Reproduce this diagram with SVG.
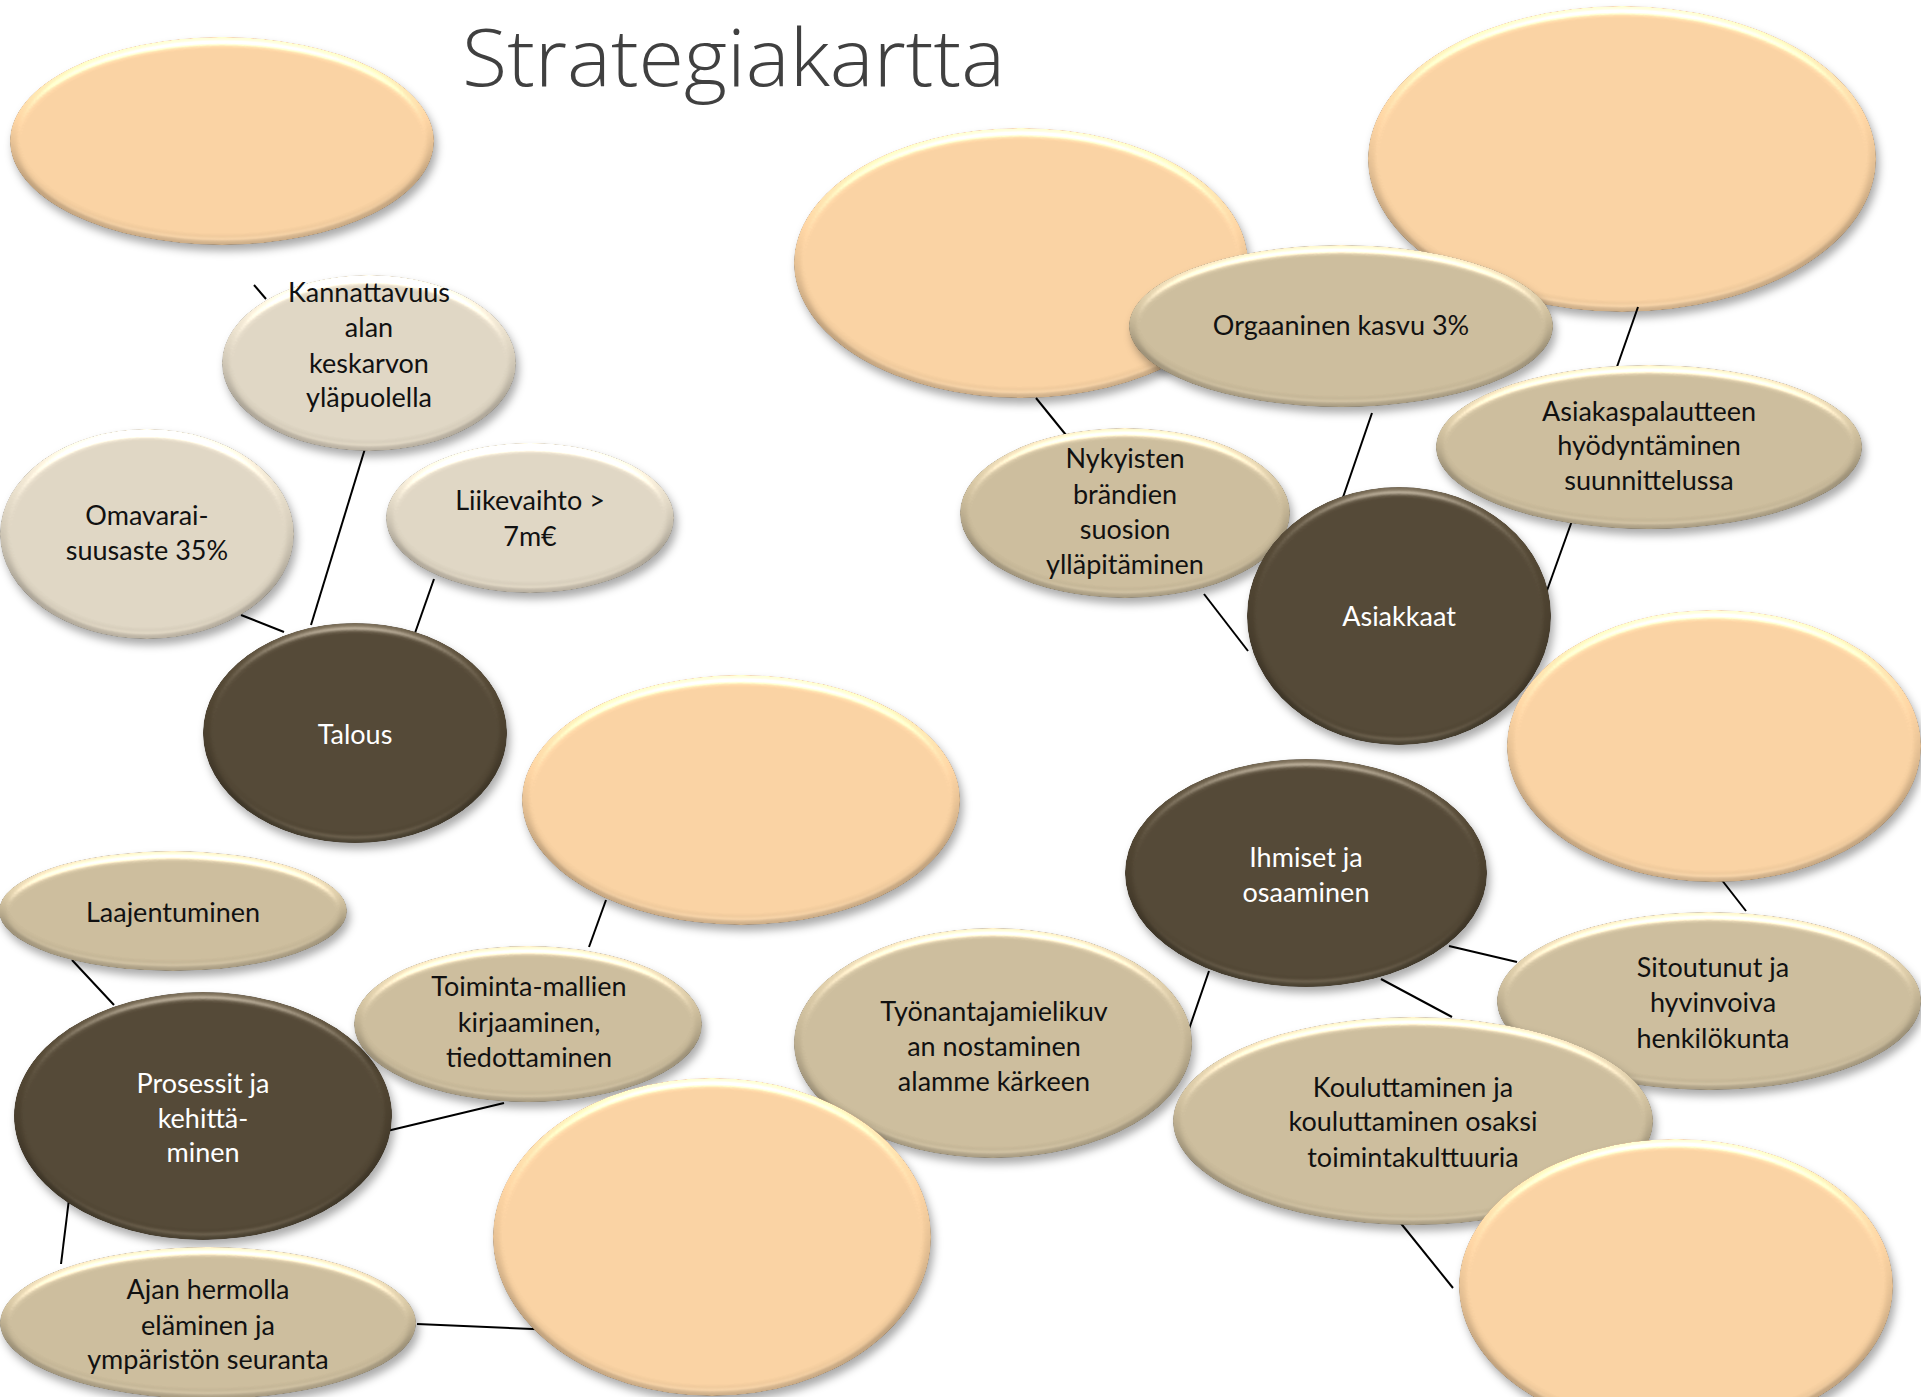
<svg xmlns="http://www.w3.org/2000/svg" width="1921" height="1397" viewBox="0 0 1921 1397">
<defs>
<filter id="pillow" x="-8%" y="-8%" width="120%" height="125%" color-interpolation-filters="sRGB">
  <feGaussianBlur in="SourceAlpha" stdDeviation="4" result="b"/>
  <feDiffuseLighting in="b" surfaceScale="5" diffuseConstant="1" lighting-color="#ffffff" result="d">
    <feDistantLight azimuth="270" elevation="30"/>
  </feDiffuseLighting>
  <feComposite in="SourceGraphic" in2="d" operator="arithmetic" k1="0.4" k2="0.8" k3="0" k4="0" result="shaded"/>
  <feSpecularLighting in="b" surfaceScale="6" specularConstant="0.8" specularExponent="22" lighting-color="#ffffff" result="s1">
    <feDistantLight azimuth="270" elevation="32"/>
  </feSpecularLighting>
  <feSpecularLighting in="b" surfaceScale="6" specularConstant="0.5" specularExponent="22" lighting-color="#fff3dc" result="s2">
    <feDistantLight azimuth="90" elevation="32"/>
  </feSpecularLighting>
  <feComposite in="shaded" in2="s1" operator="arithmetic" k1="0" k2="1" k3="0.45" k4="0" result="l1"/>
  <feComposite in="l1" in2="s2" operator="arithmetic" k1="0" k2="1" k3="0.3" k4="0" result="lit"/>
  <feComposite in="lit" in2="SourceAlpha" operator="in" result="litIn"/>
  <feGaussianBlur in="SourceAlpha" stdDeviation="4" result="sb"/>
  <feOffset in="sb" dx="3" dy="6" result="so"/>
  <feFlood flood-color="#000000" flood-opacity="0.33"/>
  <feComposite in2="so" operator="in" result="shadow"/>
  <feMerge><feMergeNode in="shadow"/><feMergeNode in="litIn"/></feMerge>
</filter>
</defs>
<style>
.peach{fill:#F3CC9D;filter:url(#pillow)}
.light{fill:#D9D0BE;filter:url(#pillow)}
.mid{fill:#C6B797;filter:url(#pillow)}
.dark{fill:#4E4331;filter:url(#pillow)}
.t{font-family:Lato,"Open Sans","Liberation Sans",sans-serif;font-size:27px;text-anchor:middle;fill:#111111}
.w{fill:#ffffff}
.conn line{stroke:#000000;stroke-width:2;stroke-linecap:butt}
.title{font-family:"Open Sans","Liberation Sans",sans-serif;font-weight:300;font-size:80px;fill:#404040}
</style>
<rect width="1921" height="1397" fill="#ffffff"/>
<text class="title" x="462" y="86" textLength="543" lengthAdjust="spacingAndGlyphs">Strategiakartta</text>

<g id="n-peach-tl"><ellipse class="peach" cx="222" cy="141" rx="212" ry="104"/></g>
<g id="n-peach-tm"><ellipse class="peach" cx="1021" cy="263" rx="227" ry="135"/></g>
<g id="n-peach-tr"><ellipse class="peach" cx="1622" cy="159" rx="254" ry="153"/></g>
<g id="n-peach-m"><ellipse class="peach" cx="741" cy="800" rx="219" ry="125"/></g>

<g id="conns" class="conn">
  <line x1="254" y1="285" x2="266" y2="299"/>
  <line x1="371" y1="429" x2="311" y2="625"/>
  <line x1="241" y1="615" x2="284" y2="632"/>
  <line x1="434" y1="579" x2="415" y2="633"/>
  <line x1="1036" y1="398" x2="1066" y2="435"/>
  <line x1="1372" y1="413" x2="1340" y2="506"/>
  <line x1="1638" y1="307" x2="1612" y2="381"/>
  <line x1="1573" y1="518" x2="1535" y2="624"/>
  <line x1="1204" y1="594" x2="1248" y2="651"/>
  <line x1="1714" y1="870" x2="1746" y2="911"/>
  <line x1="1449" y1="946" x2="1517" y2="962"/>
  <line x1="1381" y1="979" x2="1452" y2="1017"/>
  <line x1="1209" y1="971" x2="1188" y2="1032"/>
  <line x1="1399" y1="1221" x2="1453" y2="1288"/>
  <line x1="606" y1="900" x2="589" y2="947"/>
  <line x1="504" y1="1103" x2="387" y2="1131" stroke-width="2.5"/>
  <line x1="72" y1="960" x2="114" y2="1005"/>
  <line x1="69" y1="1199" x2="61" y2="1264" stroke-width="2.5"/>
  <line x1="417" y1="1324" x2="557" y2="1330" stroke-width="2.5"/>
</g>

<g id="n-kannattavuus"><ellipse class="light" cx="369" cy="363" rx="147" ry="88"/>
<text class="t" x="369" y="302">Kannattavuus</text><text class="t" x="369" y="337">alan</text><text class="t" x="369" y="373">keskarvon</text><text class="t" x="369" y="407">yläpuolella</text></g>
<g id="n-omavarai"><ellipse class="light" cx="147" cy="534" rx="147" ry="105"/>
<text class="t" x="147" y="525">Omavarai-</text><text class="t" x="147" y="560">suusaste 35%</text></g>
<g id="n-liikevaihto"><ellipse class="light" cx="530" cy="518" rx="144" ry="75"/>
<text class="t" x="530" y="510">Liikevaihto &gt;</text><text class="t" x="530" y="546">7m€</text></g>
<g id="n-talous"><ellipse class="dark" cx="355" cy="733" rx="152" ry="110"/>
<text class="t w" x="355" y="744">Talous</text></g>

<g id="n-orgaaninen"><ellipse class="mid" cx="1341" cy="326" rx="212" ry="81"/>
<text class="t" x="1341" y="335">Orgaaninen kasvu 3%</text></g>
<g id="n-nykyisten"><ellipse class="mid" cx="1125" cy="513" rx="165" ry="85"/>
<text class="t" x="1125" y="468">Nykyisten</text><text class="t" x="1125" y="504">brändien</text><text class="t" x="1125" y="539">suosion</text><text class="t" x="1125" y="574">ylläpitäminen</text></g>
<g id="n-asiakaspalaute"><ellipse class="mid" cx="1649" cy="447" rx="213" ry="82"/>
<text class="t" x="1649" y="421">Asiakaspalautteen</text><text class="t" x="1649" y="455">hyödyntäminen</text><text class="t" x="1649" y="490">suunnittelussa</text></g>
<g id="n-asiakkaat"><ellipse class="dark" cx="1399" cy="616" rx="152" ry="129"/>
<text class="t w" x="1399" y="626">Asiakkaat</text></g>
<g id="n-peach-rm"><ellipse class="peach" cx="1714" cy="746" rx="207" ry="136"/></g>

<g id="n-ihmiset"><ellipse class="dark" cx="1306" cy="873" rx="181" ry="114"/>
<text class="t w" x="1306" y="867">Ihmiset ja</text><text class="t w" x="1306" y="902">osaaminen</text></g>
<g id="n-laajentuminen"><ellipse class="mid" cx="173" cy="911" rx="174" ry="60"/>
<text class="t" x="173" y="922">Laajentuminen</text></g>
<g id="n-prosessit"><ellipse class="dark" cx="203" cy="1116" rx="189" ry="124"/>
<text class="t w" x="203" y="1093">Prosessit ja</text><text class="t w" x="203" y="1128">kehittä-</text><text class="t w" x="203" y="1162">minen</text></g>
<g id="n-toiminta"><ellipse class="mid" cx="528" cy="1024" rx="174" ry="78"/>
<text class="t" x="529" y="996">Toiminta-mallien</text><text class="t" x="529" y="1032">kirjaaminen,</text><text class="t" x="529" y="1067">tiedottaminen</text></g>
<g id="n-tyonantaja"><ellipse class="mid" cx="993" cy="1043" rx="199" ry="115"/>
<text class="t" x="994" y="1021">Työnantajamielikuv</text><text class="t" x="994" y="1056">an nostaminen</text><text class="t" x="994" y="1091">alamme kärkeen</text></g>
<g id="n-sitoutunut"><ellipse class="mid" cx="1709" cy="1001" rx="212" ry="89"/>
<text class="t" x="1713" y="977">Sitoutunut ja</text><text class="t" x="1713" y="1012">hyvinvoiva</text><text class="t" x="1713" y="1048">henkilökunta</text></g>
<g id="n-koulutus"><ellipse class="mid" cx="1413" cy="1121" rx="240" ry="104"/>
<text class="t" x="1413" y="1097">Kouluttaminen ja</text><text class="t" x="1413" y="1131">kouluttaminen osaksi</text><text class="t" x="1413" y="1167">toimintakulttuuria</text></g>
<g id="n-ajan"><ellipse class="mid" cx="208" cy="1323" rx="208" ry="76"/>
<text class="t" x="208" y="1299">Ajan hermolla</text><text class="t" x="208" y="1335">eläminen ja</text><text class="t" x="208" y="1369">ympäristön seuranta</text></g>
<g id="n-peach-bm"><ellipse class="peach" cx="712" cy="1237" rx="219" ry="159"/></g>
<g id="n-peach-br"><ellipse class="peach" cx="1676" cy="1286" rx="217" ry="147"/></g>
</svg>
